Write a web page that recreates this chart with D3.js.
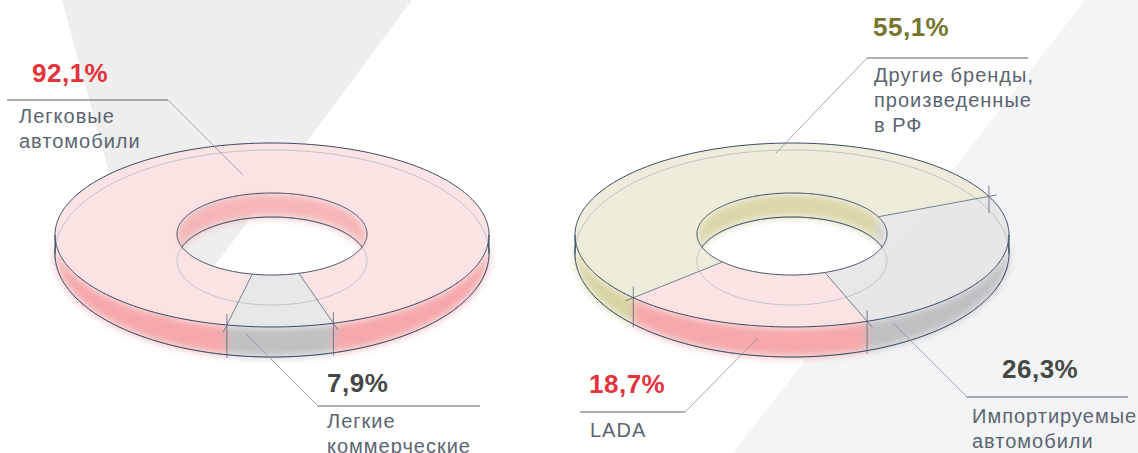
<!DOCTYPE html>
<html><head><meta charset="utf-8">
<script src="https://cdn.jsdelivr.net/npm/d3@7"></script>
<style>html,body{margin:0;padding:0;background:#fff;} svg{display:block;}</style>
</head><body><svg id="chart" width="1138" height="453"></svg>
<script>
// ---------- DATA ----------
const leftCategories = ["Легковые автомобили", "Легкие коммерческие"];
const leftValues = [92.1, 7.9];
const leftLabelLines = [["Легковые", "автомобили"], ["Легкие", "коммерческие"]];

const rightCategories = ["Другие бренды, произведенные в РФ", "Импортируемые автомобили", "LADA"];
const rightValues = [55.1, 26.3, 18.7];
const rightLabelLines = [["Другие бренды,", "произведенные", "в РФ"], ["Импортируемые", "автомобили"], ["LADA"]];

// ---------- STYLE / LAYOUT ----------
const palette = {
  pink:  {top: "#fce1e1", side: "#f5a7aa", inner: "#f6b5b8", text: "#e5323b"},
  grey:  {top: "#e6e6e7", side: "#bfc0c2", inner: "#cfd0d3", text: "#464845"},
  olive: {top: "#ecebd7", side: "#d6d4a2", inner: "#d9d7ab", text: "#76762e"}
};
const leftKeys = ["pink", "grey"];
const rightKeys = ["olive", "grey", "pink"];

const W = 1138, H = 453;
const dark = "#33445a", light = "#aab0b7";
const fontFamily = "'Liberation Sans', Arial, Helvetica, sans-serif";

const svg = d3.select("#chart");
const defs = svg.append("defs");
defs.append("filter").attr("id", "soft")
  .attr("filterUnits", "userSpaceOnUse").attr("x", 0).attr("y", 0).attr("width", W).attr("height", H)
  .append("feGaussianBlur").attr("stdDeviation", 4);

// background shapes
svg.append("polygon").attr("points", "62,0 412,0 156,345").attr("fill", "#eeeeee");
svg.append("polygon").attr("points", `1085,0 ${W},0 ${W},${H} 733,${H}`).attr("fill", "#f3f4f6");

const line = d3.line();
const deg = Math.PI / 180;

function ell(cx, cy, rx, ry) { return t => [cx + rx * Math.cos(t), cy + ry * Math.sin(t)]; }
function arcPts(f, a, b) {
  const n = Math.max(2, Math.ceil(Math.abs(b - a) / 0.01));
  return d3.range(n + 1).map(i => f(a + (b - a) * i / n));
}
function intervals(a, b, lo, hi) {
  const out = [];
  for (let k = -1; k <= 2; k++) {
    const s = Math.max(a, lo + 2 * Math.PI * k), e = Math.min(b, hi + 2 * Math.PI * k);
    if (e > s + 1e-6) out.push([s, e]);
  }
  return out;
}

function donut(id, cx, cy, values, keys, startDeg) {
  const O  = ell(cx, cy, 217, 92);
  const OB = ell(cx, cy + 18.5, 217, 103.5);
  const I  = ell(cx, cy - 1, 95, 41);
  const IB = ell(cx, cy + 26, 95, 44);

  const start = startDeg * deg;
  const arcs = d3.pie().sort(null).value(d => d)
    .startAngle(start).endAngle(start + 2 * Math.PI)(values);

  const g = svg.append("g");

  // walls (soft)
  const walls = g.append("g").attr("filter", "url(#soft)");
  arcs.forEach((a, i) => {
    const c = palette[keys[i]];
    intervals(a.startAngle, a.endAngle, 0, Math.PI).forEach(([s, e]) => {
      walls.append("path").attr("d", line(arcPts(O, s, e).concat(arcPts(OB, e, s))) + "Z")
        .attr("fill", c.side);
    });
    intervals(a.startAngle, a.endAngle, Math.PI, 2 * Math.PI).forEach(([s, e]) => {
      walls.append("path").attr("d", line(arcPts(I, s, e).concat(arcPts(IB, e, s))) + "Z")
        .attr("fill", c.inner);
    });
  });

  // top faces
  arcs.forEach((a, i) => {
    const c = palette[keys[i]];
    g.append("path").attr("d", line(arcPts(O, a.startAngle, a.endAngle).concat(arcPts(I, a.endAngle, a.startAngle))) + "Z")
      .attr("fill", c.top).attr("fill-opacity", 0.9);
  });

  // masks
  const mask = defs.append("mask").attr("id", id + "-mask");
  mask.append("rect").attr("width", W).attr("height", H).attr("fill", "#fff");
  mask.append("path").attr("d", line(arcPts(O, 0, 2 * Math.PI)) + "Z").attr("fill", "#000");
  defs.append("clipPath").attr("id", id + "-clip")
    .append("path").attr("d", line(arcPts(I, 0, 2 * Math.PI)) + "Z");

  const wf = g.append("g").attr("fill", "none");
  // bottom ellipses
  wf.append("path").attr("d", line(arcPts(OB, 0, 2 * Math.PI)) + "Z").attr("stroke", light).attr("stroke-width", 0.7);
  wf.append("path").attr("d", line(arcPts(OB, 0, 2 * Math.PI)) + "Z").attr("stroke", dark).attr("stroke-width", 1)
    .attr("mask", `url(#${id}-mask)`);
  wf.append("path").attr("d", line(arcPts(IB, 0, 2 * Math.PI)) + "Z").attr("stroke", light).attr("stroke-width", 0.7);
  wf.append("path").attr("d", line(arcPts(IB, 0, 2 * Math.PI)) + "Z").attr("stroke", dark).attr("stroke-width", 1)
    .attr("clip-path", `url(#${id}-clip)`);
  // top ellipses
  wf.append("path").attr("d", line(arcPts(O, 0, 2 * Math.PI)) + "Z").attr("stroke", dark).attr("stroke-width", 1);
  wf.append("path").attr("d", line(arcPts(I, 0, 2 * Math.PI)) + "Z").attr("stroke", dark).attr("stroke-width", 1);
  // silhouettes
  [0, Math.PI].forEach(t => {
    wf.append("path").attr("d", line([O(t), OB(t)])).attr("stroke", dark).attr("stroke-width", 1);
  });
  // slice boundaries
  arcs.forEach(a => {
    const t = a.startAngle;
    const po = O(t), pi = I(t), pb = OB(t);
    const dx = po[0] - pi[0], dy = po[1] - pi[1], L = Math.hypot(dx, dy);
    const ext = [po[0] + 8 * dx / L, po[1] + 8 * dy / L];
    wf.append("path").attr("d", line([pi, ext])).attr("stroke", "#566676").attr("stroke-width", 0.8);
    wf.append("path").attr("d", line([[po[0], po[1] - 11], [po[0], pb[1] + 3]])).attr("stroke", "#566676").attr("stroke-width", 0.8);
  });
  return arcs;
}

donut("L", 272, 235, leftValues, leftKeys, 102);
donut("R", 792, 235, rightValues, rightKeys, 137);

// ---------- LABELS ----------
const fmt = v => v.toFixed(1).replace(".", ",") + "%";
const labelLayout = [
  {v: leftValues[0], key: leftKeys[0], lines: leftLabelLines[0], px: 32, py: 82, tx: 19, ty: 123, leader: [[7,100],[168,100],[243,175]]},
  {v: leftValues[1], key: leftKeys[1], lines: leftLabelLines[1], px: 327, py: 392, tx: 327, ty: 428, leader: [[480,406],[318,406],[245,333]]},
  {v: rightValues[0], key: rightKeys[0], lines: rightLabelLines[0], px: 873, py: 36, tx: 874, ty: 82, leader: [[1028,58],[867,58],[776,153]]},
  {v: rightValues[1], key: rightKeys[1], lines: rightLabelLines[1], px: 1002, py: 378, tx: 972, ty: 423, leader: [[1128,397],[967,397],[893,323]]},
  {v: rightValues[2], key: rightKeys[2], lines: rightLabelLines[2], px: 589, py: 393, tx: 590, ty: 437, leader: [[580,412],[685,412],[758,338]]}
];
const lg = svg.append("g");
labelLayout.forEach(d => {
  lg.append("path").attr("d", line(d.leader.slice(1))).attr("fill", "none").attr("stroke", "#8d969f").attr("stroke-width", 0.8);
  lg.append("path").attr("d", line(d.leader.slice(0, 2))).attr("fill", "none").attr("stroke", "#56626f").attr("stroke-width", 1);
  lg.append("text").attr("x", d.px).attr("y", d.py).text(fmt(d.v))
    .attr("font-family", fontFamily).attr("font-weight", "bold").attr("font-size", 26)
    .attr("letter-spacing", 0.5).attr("fill", palette[d.key].text);
  const t = lg.append("text").attr("font-family", fontFamily).attr("font-size", 20).attr("fill", "#5b6470")
    .attr("letter-spacing", 1);
  d.lines.forEach((s, i) => t.append("tspan").attr("x", d.tx).attr("y", d.ty + i * 25).text(s));
});
</script></body></html>
